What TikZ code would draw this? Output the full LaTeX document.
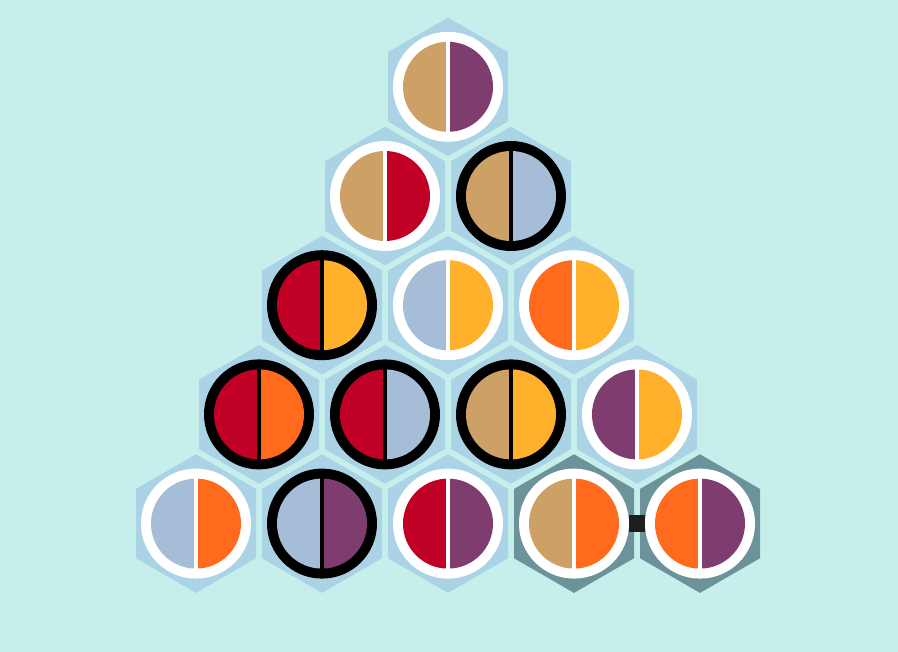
\documentclass[tikz,border=0pt]{standalone}
\definecolor{bgc}{HTML}{C6EFEC}
\definecolor{hexl}{HTML}{AAD3E6}
\definecolor{hexd}{HTML}{6C939A}
\definecolor{ctan}{HTML}{CDA066}
\definecolor{cpur}{HTML}{7E3C6F}
\definecolor{cred}{HTML}{C10026}
\definecolor{cblu}{HTML}{A6BDD7}
\definecolor{cora}{HTML}{FF6A1C}
\definecolor{cyel}{HTML}{FFB12B}
\definecolor{conn}{HTML}{1E1E1E}
\begin{document}
\begin{tikzpicture}[x=1pt,y=-1pt,
  ringnode/.style={circle,inner sep=0pt,outer sep=0pt,minimum size=110pt},
  divider/.style={line width=3.5pt}]
\fill[bgc] (0,0) rectangle (898,652);
\useasboundingbox (0,0) rectangle (898,652);
\foreach \r/\c/\a/\b/\ring/\hexc in {
  0/0/ctan/cpur/white/hexl,
  1/0/ctan/cred/white/hexl,
  1/1/ctan/cblu/black/hexl,
  2/0/cred/cyel/black/hexl,
  2/1/cblu/cyel/white/hexl,
  2/2/cora/cyel/white/hexl,
  3/0/cred/cora/black/hexl,
  3/1/cred/cblu/black/hexl,
  3/2/ctan/cyel/black/hexl,
  3/3/cpur/cyel/white/hexl,
  4/0/cblu/cora/white/hexl,
  4/1/cblu/cpur/black/hexl,
  4/2/cred/cpur/white/hexl,
  4/3/ctan/cora/white/hexd,
  4/4/cora/cpur/white/hexd} {
  \pgfmathsetmacro\X{448+(2*\c-\r)*63}
  \pgfmathsetmacro\Y{86.8+\r*109.2}
  \coordinate (h-\r-\c) at (\X,\Y);
  \fill[\hexc] (\X,\Y-69.3) -- (\X+60,\Y-34.65) -- (\X+60,\Y+34.65)
     -- (\X,\Y+69.3) -- (\X-60,\Y+34.65) -- (\X-60,\Y-34.65) -- cycle;
  \node[ringnode,fill=\ring] (c-\r-\c) at (h-\r-\c) {};
  \fill[\a] (h-\r-\c) ++(90:45) arc[start angle=90,end angle=270,radius=45] -- cycle;
  \fill[\b] (h-\r-\c) ++(270:45) arc[start angle=270,end angle=450,radius=45] -- cycle;
  \draw[\ring,divider] (\X,\Y-46) -- (\X,\Y+46);
}
\draw[conn,line width=17pt] (c-4-3.east) -- (c-4-4.west);
\end{tikzpicture}
\end{document}
